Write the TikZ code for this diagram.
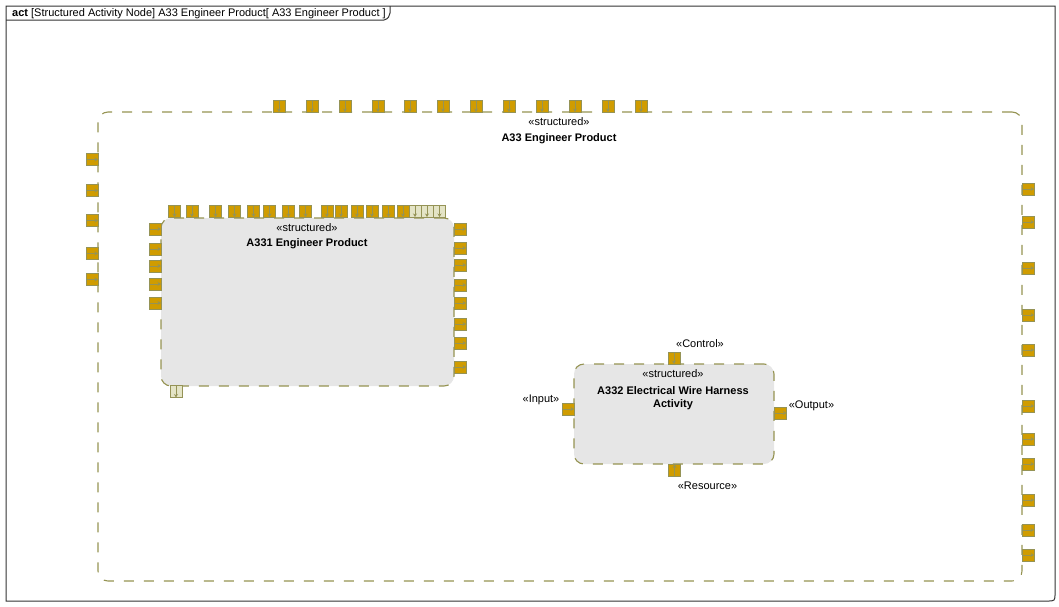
\documentclass[tikz,border=0pt]{standalone}
\usepackage{fontspec}
\setmainfont{Liberation Sans}
\usetikzlibrary{arrows.meta}
\definecolor{pinfill}{HTML}{D09C00}
\definecolor{pinedge}{HTML}{959356}
\definecolor{olivec}{HTML}{959352}
\definecolor{boxfill}{HTML}{E6E6E6}
\definecolor{palefill}{HTML}{E4E4C6}
\definecolor{framecol}{HTML}{333333}
\begin{document}
\begin{tikzpicture}[x=1pt,y=-1pt,
 pinbox/.style={draw=pinedge, fill=pinfill, line width=1pt, minimum size=12pt, inner sep=0pt, outer sep=0pt},
 palepin/.style={pinbox, fill=palefill},
 pinarr/.style={draw=pinedge, line width=0.8pt, -{Stealth[length=3.5pt,width=4pt]}},
 actbox/.style={draw=olivec, dash pattern=on 10pt off 10pt, line width=1.1pt, rounded corners=10pt, inner sep=0pt, outer sep=0pt, anchor=north west},
 lbl/.style={font=\fontsize{11}{13}\selectfont, inner sep=0pt},
 ttl/.style={font=\fontsize{11}{13}\selectfont\bfseries, inner sep=0pt, align=center},
]
\useasboundingbox (0,0) rectangle (1059,606);
% frame
\draw[framecol, line width=1pt] (6,601) -- (6,6) -- (1055,6) -- (1055,593) .. controls (1055,601) .. (1047,601) -- cycle;
\draw[framecol, line width=1pt] (6,20) -- (384,20) .. controls (388,19) and (390,16) .. (390,13) -- (390,6);
\node[lbl, anchor=west] (hdr) at (12,13.5) {\textbf{act} [Structured Activity Node] A33 Engineer Product[ A33 Engineer Product ]};
% boxes
\node[actbox, minimum width=924pt, minimum height=469pt] (a33) at (98,112) {};
\node[actbox, fill=boxfill, minimum width=293pt, minimum height=168pt] (a331) at (161,218) {};
\node[actbox, fill=boxfill, minimum width=200pt, minimum height=100pt] (a332) at (574,364) {};
% labels
\node[lbl] (s33) at (559,122) {«structured»};
\node[ttl] (t33) at (559,138.5) {A33 Engineer Product};
\node[lbl] (s331) at (307,228) {«structured»};
\node[ttl] (t331) at (307,243.5) {A331 Engineer Product};
\node[lbl] (s332) at (673,374) {«structured»};
\node[ttl] (t332) at (673,398) {A332 Electrical Wire Harness\\Activity};
\node[lbl] (lc) at (700,344) {«Control»};
\node[lbl] (li) at (541,399.5) {«Input»};
\node[lbl] (lo) at (811.5,405.5) {«Output»};
\node[lbl] (lr) at (707.5,486) {«Resource»};
% A33 pins
\foreach \x [count=\i] in {279,312,345,378,410,443,476,509,542,575,608,641} {
  \node[pinbox] (ta\i) at (\x,106) {};
  \draw[pinarr] (ta\i.north) -- (ta\i.south);
}
\foreach \y [count=\i] in {159.5,190.5,220.5,253.5,279.5} {
  \node[pinbox] (la\i) at (92,\y) {};
  \draw[pinarr] (la\i.west) -- (la\i.east);
}
\foreach \y [count=\i] in {189,222,268,315,350,406,439,464,500,530,555} {
  \node[pinbox] (ra\i) at (1028,\y) {};
  \draw[pinarr] (ra\i.west) -- (ra\i.east);
}
% A331 pins
\foreach \x [count=\i] in {174.5,192,215.5,234.5,253.5,269.5,288.5,305.5,327,341,357,372,388.5,403} {
  \node[pinbox] (tb\i) at (\x,211) {};
  \draw[pinarr] (tb\i.north) -- (tb\i.south);
}
\foreach \x [count=\i] in {415,427,439.5} {
  \node[palepin] (pb\i) at (\x,211) {};
  \draw[pinarr] (pb\i.north) -- (pb\i.south);
}
\foreach \y [count=\i] in {229,249,266,284,303} {
  \node[pinbox] (lb\i) at (155,\y) {};
  \draw[pinarr] (lb\i.west) -- (lb\i.east);
}
\foreach \y [count=\i] in {229,248,265,285,303,324,343,367} {
  \node[pinbox] (rb\i) at (460,\y) {};
  \draw[pinarr] (rb\i.west) -- (rb\i.east);
}
\node[palepin] (bb1) at (176,391.5) {};
\draw[pinarr] (bb1.north) -- (bb1.south);
% A332 pins
\node[pinbox] (pc) at (674,358) {};
\draw[pinarr] (pc.north) -- (pc.south);
\node[pinbox] (pi) at (568,409) {};
\draw[pinarr] (pi.west) -- (pi.east);
\node[pinbox] (po) at (780.5,413) {};
\draw[pinarr] (po.west) -- (po.east);
\node[pinbox] (pr) at (674.5,470.5) {};
\draw[pinarr] (pr.south) -- (pr.north);
\end{tikzpicture}
\end{document}
